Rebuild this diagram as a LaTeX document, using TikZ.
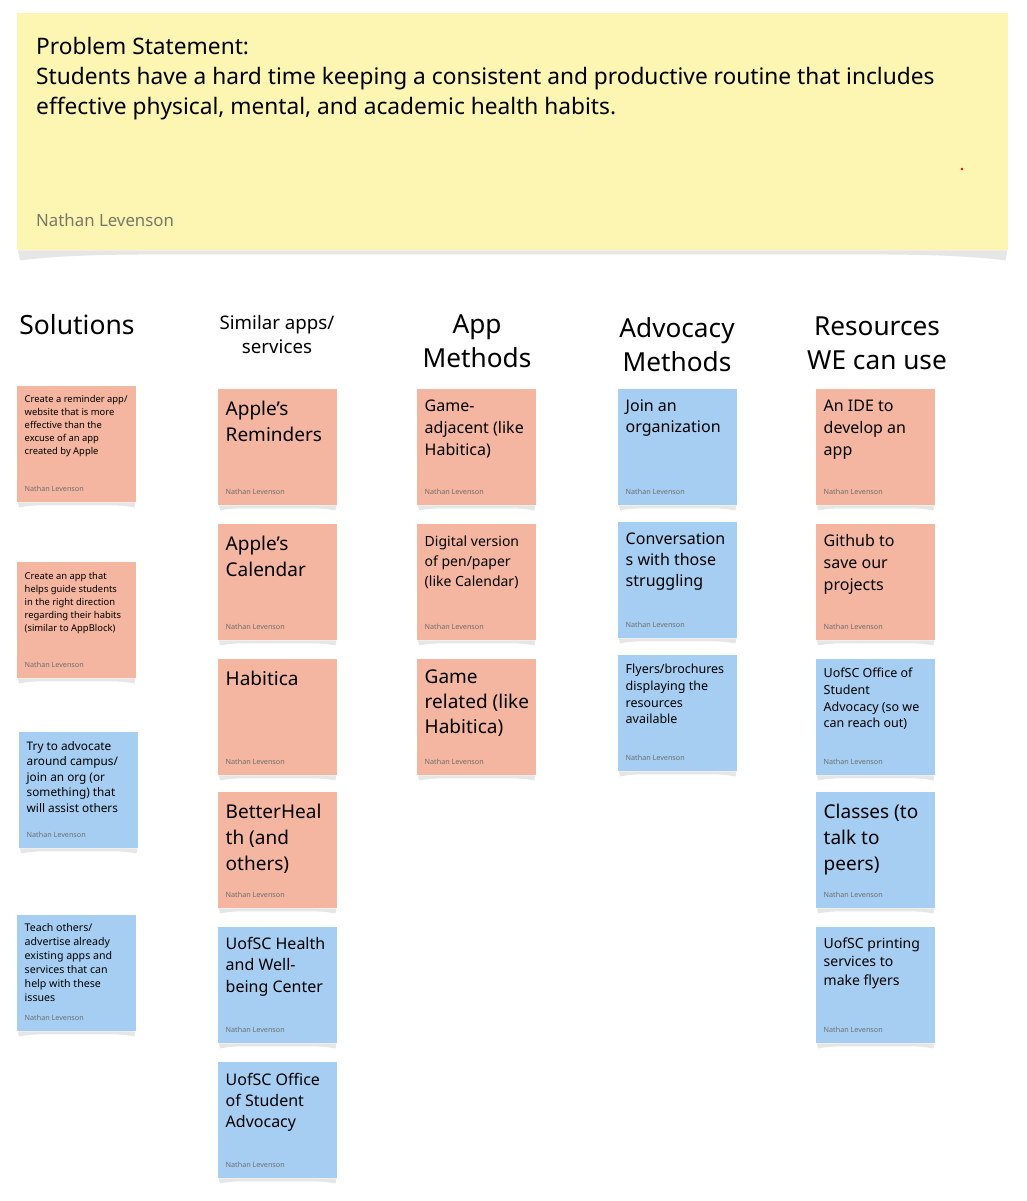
\documentclass[tikz,border=0pt]{standalone}
\usepackage{fontspec}
\setmainfont{Noto Sans}
\definecolor{salmon}{HTML}{F4B6A0}
\definecolor{skyb}{HTML}{A6CEF2}
\definecolor{bannery}{HTML}{FCF6B2}
\definecolor{shadowg}{HTML}{E6E6E6}
\definecolor{authg}{HTML}{6E6E6E}
\definecolor{bannerauth}{HTML}{77776A}
\tikzset{
  stickybox/.style={rectangle, minimum width=119pt, minimum height=116pt, inner sep=0pt, anchor=north west, draw=none},
  stickytext/.style={anchor=north west, inner sep=0pt, align=left, text=black},
  authortext/.style={anchor=base west, inner sep=0pt, font=\fontsize{7.2}{8}\selectfont, text=authg},
  header/.style={align=center, inner sep=0pt, anchor=north, text=black},
}
% #1 name, #2 x, #3 y, #4 colour, #5 size, #6 leading, #7 top offset, #8 text
\newcommand\sticky[8]{%
  \node[stickybox, fill=#4] (#1) at (#2,#3) {};
  \fill[shadowg] ([xshift=1pt]#1.south west) -- ++(1pt,-5pt)
     .. controls +(12pt,2pt) and +(-15pt,0pt) .. ([xshift=30pt,yshift=-3pt]#1.south west)
     -- ([xshift=-30pt,yshift=-3pt]#1.south east)
     .. controls +(15pt,0pt) and +(-12pt,2pt) .. ([xshift=-2pt,yshift=-5pt]#1.south east)
     -- ([xshift=-1pt]#1.south east) -- cycle;
  \node[stickytext, font=\fontsize{#5}{#6}\selectfont] (#1-t) at ([xshift=7.5pt,yshift=-#7pt]#1.north west) {#8};
  \node[authortext] (#1-a) at ([xshift=7.5pt,yshift=11pt]#1.south west) {Nathan Levenson};
}
\begin{document}
\begin{tikzpicture}[x=1pt,y=-1pt]
\useasboundingbox[fill=white] (0,0) rectangle (1026,1201);

% banner
\node[rectangle, fill=bannery, minimum width=991pt, minimum height=237pt, anchor=north west, inner sep=0pt] (banner) at (17,13) {};
\fill[shadowg] ([xshift=1pt]banner.south west) -- ++(2pt,-10pt)
   .. controls +(40pt,5pt) and +(-60pt,0pt) .. ([xshift=150pt,yshift=-4pt]banner.south west)
   -- ([xshift=-150pt,yshift=-4pt]banner.south east)
   .. controls +(60pt,0pt) and +(-40pt,5pt) .. ([xshift=-3pt,yshift=-10pt]banner.south east)
   -- ([xshift=-1pt]banner.south east) -- cycle;
\node[anchor=north west, align=left, inner sep=0pt, font=\fontsize{22.7}{30}\selectfont] (ps) at (36,37.5)
  {Problem Statement:\\Students have a hard time keeping a consistent and productive routine that includes\\effective physical, mental, and academic health habits.};
\node[anchor=base west, inner sep=0pt, font=\fontsize{16.8}{18}\selectfont, text=bannerauth] (pa) at (36,226) {Nathan Levenson};
\node[circle, fill=red, inner sep=0pt, minimum size=2.6pt] (dot) at (962,169) {};

% headers
\node[header, font=\fontsize{26.5}{34}\selectfont] (h1) at (77,314) {Solutions};
\node[header, font=\fontsize{18.7}{24}\selectfont] (h2) at (277,315) {Similar apps/\\services};
\node[header, font=\fontsize{26.2}{34}\selectfont] (h3) at (477,315) {App\\Methods};
\node[header, font=\fontsize{26.2}{34}\selectfont] (h4) at (677,317) {Advocacy\\Methods};
\node[header, font=\fontsize{26.2}{34}\selectfont] (h5) at (877,317) {Resources\\WE can use};

% column 1
\sticky{c1a}{17}{386}{salmon}{9.4}{13}{9}{Create a reminder app/\\website that is more\\effective than the\\excuse of an app\\created by Apple}
\sticky{c1b}{17}{562}{salmon}{9.4}{13}{10}{Create an app that\\helps guide students\\in the right direction\\regarding their habits\\(similar to AppBlock)}
\sticky{c1c}{19}{732}{skyb}{11.8}{15.5}{9}{Try to advocate\\around campus/\\join an org (or\\something) that\\will assist others}
\sticky{c1d}{17}{915}{skyb}{10.6}{14}{8.5}{Teach others/\\advertise already\\existing apps and\\services that can\\help with these\\issues}

% column 2
\sticky{c2a}{218}{389}{salmon}{19}{26}{11.5}{Apple’s\\Reminders}
\sticky{c2b}{218}{524}{salmon}{19}{26}{11.5}{Apple’s\\Calendar}
\sticky{c2c}{218}{659}{salmon}{19}{26}{11.5}{Habitica}
\sticky{c2d}{218}{792}{salmon}{19}{26}{11.5}{BetterHeal\\th (and\\others)}
\sticky{c2e}{218}{927}{skyb}{16}{21.5}{9.8}{UofSC Health\\and Well-\\being Center}
\sticky{c2f}{218}{1062}{skyb}{16}{21}{10.6}{UofSC Office\\of Student\\Advocacy}

% column 3
\sticky{c3a}{417}{389}{salmon}{16}{22}{10.6}{Game-\\adjacent (like\\Habitica)}
\sticky{c3b}{417}{524}{salmon}{14}{20}{11.4}{Digital version\\of pen/paper\\(like Calendar)}
\sticky{c3c}{417}{659}{salmon}{19}{25}{10.8}{Game\\related (like\\Habitica)}

% column 4
\sticky{c4a}{618}{389}{skyb}{16}{21}{10.6}{Join an\\organization}
\sticky{c4b}{618}{522}{skyb}{16}{21}{10.6}{Conversation\\s with those\\struggling}
\sticky{c4c}{618}{655}{skyb}{12.5}{16.7}{9}{Flyers/brochures\\displaying the\\resources\\available}

% column 5
\sticky{c5a}{816}{389}{salmon}{16}{22}{10.6}{An IDE to\\develop an\\app}
\sticky{c5b}{816}{524}{salmon}{16}{22}{10.6}{Github to\\save our\\projects}
\sticky{c5c}{816}{659}{skyb}{12.5}{16.7}{9}{UofSC Office of\\Student\\Advocacy (so we\\can reach out)}
\sticky{c5d}{816}{792}{skyb}{19}{26}{11.5}{Classes (to\\talk to\\peers)}
\sticky{c5e}{816}{927}{skyb}{14}{18.5}{10.4}{UofSC printing\\services to\\make flyers}
\end{tikzpicture}
\end{document}
